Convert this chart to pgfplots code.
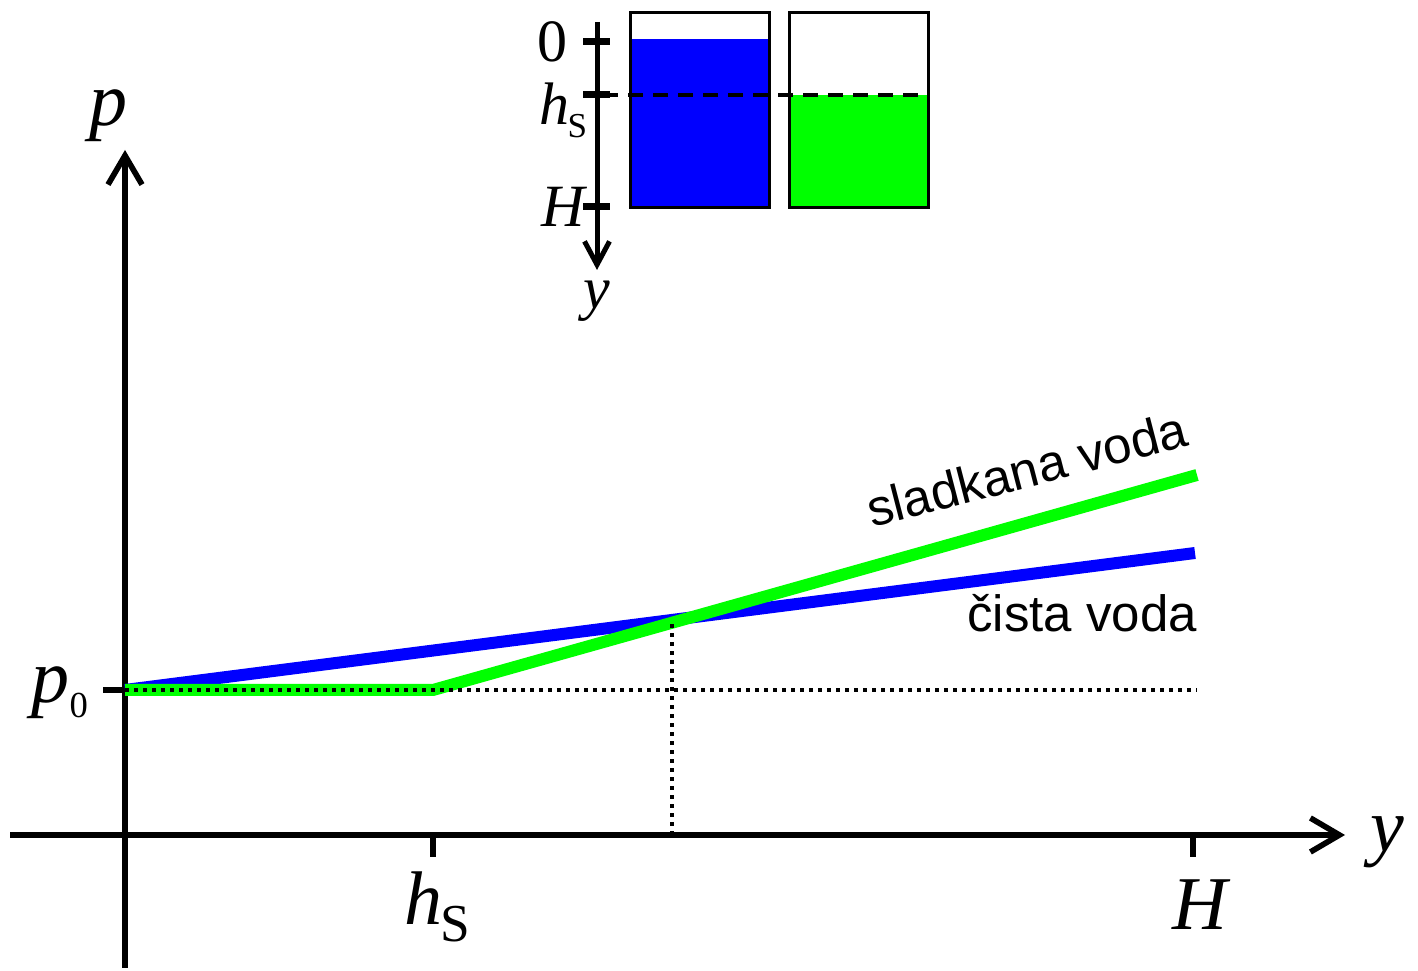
\documentclass[border=0pt]{standalone}
\usepackage{pgfplots}
\pgfplotsset{compat=1.18}
\usetikzlibrary{arrows.meta}
\usepackage{fontspec}
\setmainfont{Liberation Serif}
\newfontfamily\sansfont{Liberation Sans}

\definecolor{cleanblue}{RGB}{0,0,255}
\definecolor{sugargreen}{RGB}{0,255,0}

% symbol sizes (1 px of the drawing = 0.3pt)
\newcommand\bigsym{\fontsize{22.8}{24}\selectfont\itshape}
\newcommand\smallsym{\fontsize{18}{20}\selectfont\itshape}
\newcommand\sub[3]{\raisebox{-#2}{\fontsize{#1}{#1}\selectfont\upshape #3}}

\tikzset{lbl/.style={inner sep=0pt, outer sep=0pt}}

\begin{document}
\begin{tikzpicture}
\begin{axis}[
  x=0.3pt, y=0.3pt,
  xmin=-115, xmax=1220, ymin=-133, ymax=685,
  axis lines=middle,
  axis line style={line width=1.7pt,
    -{Straight Barb[length=8.7pt, width=10.2pt]}},
  xtick={308,1068}, ytick={145},
  xticklabels={{},{}}, yticklabels={{}},
  tick align=outside, major tick length=6.5pt,
  tick style={line width=1.9pt, black},
  clip=false,
]
% pressure in clean water: linear from the surface
\addplot[cleanblue, line width=3.6pt] coordinates {(0,145) (1070,282)};
% pressure in sugared water: constant down to h_s, then steeper
\addplot[sugargreen, line width=3.6pt] coordinates {(0,145) (308,145) (1072,360)};
% reference lines
\addplot[black, line width=1.2pt, dash pattern=on 1.2pt off 1.5pt]
  coordinates {(0,145) (1072,145)};
\addplot[black, line width=1.2pt, dash pattern=on 1.2pt off 1.5pt]
  coordinates {(547,0) (547,215)};

% axis labels
\node[lbl, anchor=base] at (-17,709) {\bigsym p};
\node[lbl, anchor=base east] at (-37,132) {\bigsym p\sub{11}{4.5pt}{0}};
\node[lbl, anchor=base] at (312,-90) {\bigsym h\kern-0.5pt\sub{16}{5pt}{S}};
\node[lbl, anchor=base] at (1075,-95) {\bigsym H};
\node[lbl, anchor=base west] at (1245,-17) {\bigsym y};

% curve labels
\node[lbl, anchor=base east, font=\sansfont\fontsize{15.3}{16}\selectfont]
  at (1072,203) {čista voda};
\node[lbl, anchor=base west, rotate=14.5, font=\sansfont\fontsize{15.3}{16}\selectfont]
  at (747,307) {sladkana voda};

% containers: clean water filled to 0, sugared water filled to h_s
\addplot[fill=cleanblue, draw=none] coordinates {(504,626) (645,626) (645,796) (504,796)} -- cycle;
\addplot[fill=sugargreen, draw=none] coordinates {(663,626) (804,626) (804,740) (663,740)} -- cycle;
\addplot[black, line width=0.9pt] coordinates {(505,627) (644,627) (644,822) (505,822)} -- cycle;
\addplot[black, line width=0.9pt] coordinates {(664,627) (803,627) (803,822) (664,822)} -- cycle;
\addplot[black, line width=1pt, dash pattern=on 4.5pt off 3pt] coordinates {(478,740) (804,740)};

% depth axis of the containers
\draw[line width=1.5pt, -{Straight Barb[length=7pt, width=7.5pt]}] (472,813) -- (472,565);
\draw[line width=2.1pt] (458,793) -- (485,793);
\draw[line width=2.1pt] (458,740) -- (485,740);
\draw[line width=2.1pt] (458,628) -- (485,628);
\node[lbl, anchor=base east] at (442,773) {\smallsym\upshape 0};
\node[lbl, anchor=base east] at (462,710) {\smallsym h\kern-0.5pt\sub{10.5}{3.9pt}{S}};
\node[lbl, anchor=base east] at (460,608) {\smallsym H};
\node[lbl, anchor=base] at (472,526) {\smallsym y};

% page frame
\path (-125,-133) rectangle (1293,835);
\end{axis}
\end{tikzpicture}
\end{document}
